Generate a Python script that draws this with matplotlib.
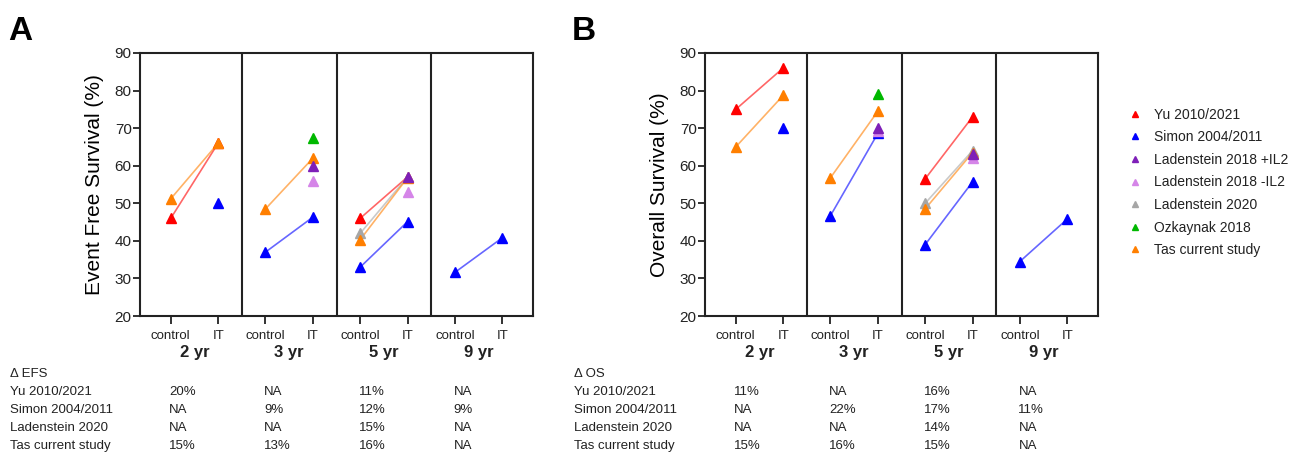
import numpy as np
import matplotlib
matplotlib.use('Agg')
import matplotlib.pyplot as plt
import matplotlib.transforms as mtransforms
from matplotlib.lines import Line2D

plt.rcParams['font.family'] = ['Liberation Sans', 'DejaVu Sans']
plt.rcParams['text.color'] = '#222222'
plt.rcParams['axes.edgecolor'] = '#222222'
plt.rcParams['xtick.color'] = '#222222'
plt.rcParams['ytick.color'] = '#222222'

nan = np.nan
timepoints = ['2 yr', '3 yr', '5 yr', '9 yr']
arms = ['control', 'IT']

studies = ['Yu 2010/2021', 'Simon 2004/2011', 'Ladenstein 2018 +IL2',
           'Ladenstein 2018 -IL2', 'Ladenstein 2020', 'Ozkaynak 2018',
           'Tas current study']
colors = ['#ff0000', '#0000ff', '#7e1fb8', '#d585e8', '#a6a6a6',
          '#00b800', '#ff7f00']

# event free survival, per timepoint (2, 3, 5, 9 yr)
yu_efs_ctrl = [46, nan, 46, nan]
yu_efs_it = [66, nan, 57, nan]
simon_efs_ctrl = [nan, 37, 33, 31.6]
simon_efs_it = [50, 46.3, 45.1, 40.8]
lad18p_efs_ctrl = [nan, nan, nan, nan]
lad18p_efs_it = [nan, 60, 57, nan]
lad18m_efs_ctrl = [nan, nan, nan, nan]
lad18m_efs_it = [nan, 56, 53, nan]
lad20_efs_ctrl = [nan, nan, 42, nan]
lad20_efs_it = [nan, nan, 57, nan]
ozk_efs_ctrl = [nan, nan, nan, nan]
ozk_efs_it = [nan, 67.5, nan, nan]
tas_efs_ctrl = [51.2, 48.5, 40.3, nan]
tas_efs_it = [66, 62, 56.8, nan]

# overall survival
yu_os_ctrl = [75, nan, 56.5, nan]
yu_os_it = [86, nan, 73, nan]
simon_os_ctrl = [nan, 46.7, 39, 34.5]
simon_os_it = [70, 68.6, 55.7, 45.8]
lad18p_os_ctrl = [nan, nan, nan, nan]
lad18p_os_it = [nan, 70, 63, nan]
lad18m_os_ctrl = [nan, nan, nan, nan]
lad18m_os_it = [nan, 69.2, 62, nan]
lad20_os_ctrl = [nan, nan, 50, nan]
lad20_os_it = [nan, nan, 64, nan]
ozk_os_ctrl = [nan, nan, nan, nan]
ozk_os_it = [nan, 79, nan, nan]
tas_os_ctrl = [65, 56.8, 48.5, nan]
tas_os_it = [78.7, 74.5, 63.5, nan]

# delta tables
table_rows = ['Yu 2010/2021', 'Simon 2004/2011', 'Ladenstein 2020', 'Tas current study']
efs_delta_yu = ['20%', 'NA', '11%', 'NA']
efs_delta_simon = ['NA', '9%', '12%', '9%']
efs_delta_lad20 = ['NA', 'NA', '15%', 'NA']
efs_delta_tas = ['15%', '13%', '16%', 'NA']
os_delta_yu = ['11%', 'NA', '16%', 'NA']
os_delta_simon = ['NA', '22%', '17%', '11%']
os_delta_lad20 = ['NA', 'NA', '14%', 'NA']
os_delta_tas = ['15%', '16%', '15%', 'NA']

efs_ctrl = [yu_efs_ctrl, simon_efs_ctrl, lad18p_efs_ctrl, lad18m_efs_ctrl,
            lad20_efs_ctrl, ozk_efs_ctrl, tas_efs_ctrl]
efs_it = [yu_efs_it, simon_efs_it, lad18p_efs_it, lad18m_efs_it,
          lad20_efs_it, ozk_efs_it, tas_efs_it]
os_ctrl = [yu_os_ctrl, simon_os_ctrl, lad18p_os_ctrl, lad18m_os_ctrl,
           lad20_os_ctrl, ozk_os_ctrl, tas_os_ctrl]
os_it = [yu_os_it, simon_os_it, lad18p_os_it, lad18m_os_it,
         lad20_os_it, ozk_os_it, tas_os_it]
efs_table = [efs_delta_yu, efs_delta_simon, efs_delta_lad20, efs_delta_tas]
os_table = [os_delta_yu, os_delta_simon, os_delta_lad20, os_delta_tas]

# marker stacking order (last on top)
draw_order = [0, 1, 4, 6, 3, 2, 5]

fig = plt.figure(figsize=(12.98, 4.55), dpi=100)
ax_a = fig.add_axes([140 / 1298, 1 - 316 / 455, 393 / 1298, 263 / 455])
ax_b = fig.add_axes([705 / 1298, 1 - 316 / 455, 393 / 1298, 263 / 455])


def draw_panel(ax, ctrl, it, ylabel, table_title, table, letter, letter_x):
    n = len(timepoints)
    for k in draw_order:
        for t in range(n):
            x0, x1 = 2 * t, 2 * t + 1
            c, v = ctrl[k][t], it[k][t]
            if not np.isnan(c) and not np.isnan(v):
                ax.plot([x0, x1], [c, v], color=colors[k], alpha=0.6,
                        lw=1.2, zorder=2)
    for k in draw_order:
        for t in range(n):
            x0, x1 = 2 * t, 2 * t + 1
            for x, y in ((x0, ctrl[k][t]), (x1, it[k][t])):
                if not np.isnan(y):
                    ax.plot(x, y, marker='^', ms=7.5, color=colors[k],
                            mec=colors[k], ls='none', zorder=3 + draw_order.index(k))
    for t in range(1, n):
        ax.axvline(2 * t - 0.5, color='#222222', lw=1.5, zorder=1)
    ax.set_xlim(-0.65, 2 * n - 0.35)
    ax.set_ylim(20, 90)
    ax.set_yticks(np.arange(20, 91, 10))
    ax.set_xticks(np.arange(2 * n))
    ax.set_xticklabels(arms * n, fontsize=9.5)
    ax.tick_params(axis='y', labelsize=11, length=5, width=1.3, pad=1)
    ax.tick_params(axis='x', length=6, width=1.3, pad=4)
    for s in ax.spines.values():
        s.set_linewidth(1.5)
    ax.set_ylabel(ylabel, fontsize=15, labelpad=8)
    trans = mtransforms.blended_transform_factory(ax.transData, ax.transAxes)
    for t, lab in enumerate(timepoints):
        ax.text(2 * t + 0.5, -0.137, lab, transform=trans, ha='center',
                va='center', fontsize=12, fontweight='bold')
    # delta table under the panel
    ftrans = mtransforms.blended_transform_factory(ax.transData, fig.transFigure)
    fig.text(letter_x + 2 / 1298, 1 - 374 / 455, table_title, fontsize=9.5,
             va='center', ha='left')
    for r, name in enumerate(table_rows):
        yy = 1 - (392 + r * 18) / 455
        fig.text(letter_x + 2 / 1298, yy, name, fontsize=9.5, va='center')
        for t in range(n):
            ax.text(2 * t - 0.03, yy, table[r][t], transform=ftrans,
                    fontsize=9.5, va='center', ha='left')
    fig.text(letter_x, 1 - 32 / 455, letter, fontsize=24, fontweight='bold',
             va='center', ha='left', color='black')


draw_panel(ax_a, efs_ctrl, efs_it, 'Event Free Survival (%)', '\u0394 EFS',
           efs_table, 'A', 8 / 1298)
draw_panel(ax_b, os_ctrl, os_it, 'Overall Survival (%)', '\u0394 OS',
           os_table, 'B', 572 / 1298)

handles = [Line2D([], [], marker='^', ls='none', color=c, ms=4.5) for c in colors]
fig.legend(handles, studies, loc='upper left',
           bbox_to_anchor=(1122 / 1298, 1 - 102 / 455), frameon=False,
           fontsize=10, handlelength=1.0, handletextpad=0.9, labelspacing=0.62,
           borderaxespad=0)

fig.savefig('out.png', dpi=100)
